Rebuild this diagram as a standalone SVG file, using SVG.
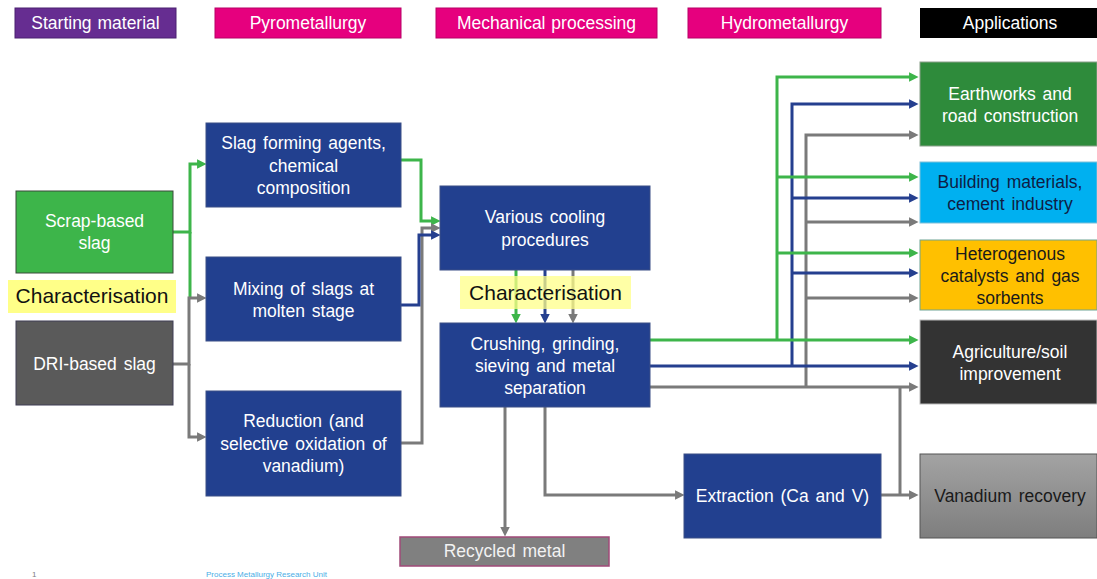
<svg xmlns="http://www.w3.org/2000/svg" width="1097" height="579" viewBox="0 0 1097 579">
  <style>
    text { font-family: "Liberation Sans", Arial, sans-serif; text-anchor: middle; }
    .hdr { font-size: 17.5px; fill: #ffffff; word-spacing: 1px; }
    .nt { font-size: 17.5px; fill: #ffffff; word-spacing: 2px; }
    .dk { fill: #1a1a1a; }
    .navy { fill: #0f1d45; }
    .char { font-size: 21px; fill: #111111; }
    .blue { fill: #22408f; stroke: #3b4f86; stroke-width: 1; }
    .ln { fill: none; stroke-width: 3; stroke-linejoin: miter; }
    .g { stroke: #3db54a; }
    .b { stroke: #253f8f; }
    .k { stroke: #7a7a7a; }
    .foot { font-size: 8px; text-anchor: start; }
  </style>
  <defs>
    <marker id="ah-g" viewBox="0 0 10 10" refX="1" refY="5" markerWidth="9.5" markerHeight="9.5" markerUnits="userSpaceOnUse" orient="auto">
      <path d="M0,0 L10,5 L0,10 z" fill="#3db54a"/>
    </marker>
    <marker id="ah-b" viewBox="0 0 10 10" refX="1" refY="5" markerWidth="9.5" markerHeight="9.5" markerUnits="userSpaceOnUse" orient="auto">
      <path d="M0,0 L10,5 L0,10 z" fill="#253f8f"/>
    </marker>
    <marker id="ah-k" viewBox="0 0 10 10" refX="1" refY="5" markerWidth="9.5" markerHeight="9.5" markerUnits="userSpaceOnUse" orient="auto">
      <path d="M0,0 L10,5 L0,10 z" fill="#7a7a7a"/>
    </marker>
    <linearGradient id="vgrad" x1="0" y1="0" x2="0" y2="1">
      <stop offset="0" stop-color="#a3a3a3"/>
      <stop offset="1" stop-color="#7e7e7e"/>
    </linearGradient>
  </defs>

  <rect width="1097" height="579" fill="#ffffff"/>

  <!-- column headers -->
  <g id="hdr-start"><rect x="15" y="8" width="161" height="30" fill="#662d91" stroke="#4b2070"/><text class="hdr" x="95.5" y="29">Starting material</text></g>
  <g id="hdr-pyro"><rect x="215" y="8" width="186" height="30" fill="#e6007e" stroke="#b80066"/><text class="hdr" x="308" y="29">Pyrometallurgy</text></g>
  <g id="hdr-mech"><rect x="436" y="8" width="221" height="30" fill="#e6007e" stroke="#b80066"/><text class="hdr" x="546.5" y="29">Mechanical processing</text></g>
  <g id="hdr-hydro"><rect x="688" y="8" width="193" height="30" fill="#e6007e" stroke="#b80066"/><text class="hdr" x="784.5" y="29">Hydrometallurgy</text></g>
  <g id="hdr-app"><rect x="920" y="8" width="177" height="30" fill="#000000"/><text class="hdr" x="1010" y="29">Applications</text></g>

  <!-- connectors -->
  <g id="connectors">
    <!-- starting material to pyrometallurgy -->
    <path class="ln g" d="M173,232 H190 V164 H198" marker-end="url(#ah-g)"/>
    <path class="ln g" d="M190,232 V298"/>
    <path class="ln k" d="M173,364 H189 V298 H198" marker-end="url(#ah-k)"/>
    <path class="ln k" d="M189,364 V437 H198" marker-end="url(#ah-k)"/>
    <!-- pyrometallurgy to cooling -->
    <path class="ln g" d="M401,160 H421 V221 H432" marker-end="url(#ah-g)"/>
    <path class="ln k" d="M401,443 H422 V228 H432" marker-end="url(#ah-k)"/>
    <path class="ln b" d="M401,305 H419 V235 H432" marker-end="url(#ah-b)"/>
    <!-- cooling to crushing -->
    <path class="ln g" d="M516,270 V315" marker-end="url(#ah-g)"/>
    <path class="ln b" d="M545,270 V315" marker-end="url(#ah-b)"/>
    <path class="ln k" d="M573,270 V315" marker-end="url(#ah-k)"/>
    <!-- crushing to applications -->
    <path class="ln k" d="M650,387 H910" marker-end="url(#ah-k)"/>
    <path class="ln k" d="M806,387 V135 H910" marker-end="url(#ah-k)"/>
    <path class="ln k" d="M806,222 H910" marker-end="url(#ah-k)"/>
    <path class="ln k" d="M806,298 H910" marker-end="url(#ah-k)"/>
    <path class="ln b" d="M650,366 H910" marker-end="url(#ah-b)"/>
    <path class="ln b" d="M792,366 V104 H910" marker-end="url(#ah-b)"/>
    <path class="ln b" d="M792,198 H910" marker-end="url(#ah-b)"/>
    <path class="ln b" d="M792,273 H910" marker-end="url(#ah-b)"/>
    <path class="ln g" d="M650,340 H910" marker-end="url(#ah-g)"/>
    <path class="ln g" d="M777,340 V77 H910" marker-end="url(#ah-g)"/>
    <path class="ln g" d="M777,177 H910" marker-end="url(#ah-g)"/>
    <path class="ln g" d="M777,253 H910" marker-end="url(#ah-g)"/>
    <!-- crushing to recycled metal and extraction -->
    <path class="ln k" d="M505,407 V528" marker-end="url(#ah-k)"/>
    <path class="ln k" d="M545,407 V495 H676" marker-end="url(#ah-k)"/>
    <!-- extraction to vanadium recovery and agriculture -->
    <path class="ln k" d="M881,495 H910" marker-end="url(#ah-k)"/>
    <path class="ln k" d="M900,495 V387"/>
  </g>

  <!-- starting materials -->
  <g id="scrap"><rect x="16" y="191" width="157" height="82" fill="#3db54a" stroke="#3a4a3a"/><text class="nt" x="94.5" y="227">Scrap-based</text><text class="nt" x="94.5" y="249">slag</text></g>
  <g id="char-left"><rect x="8" y="280" width="168" height="33" fill="#ffff88"/><text class="char" x="92" y="303">Characterisation</text></g>
  <g id="dri"><rect x="16" y="321" width="157" height="84" fill="#5a5a5a" stroke="#3e3d55"/><text class="nt" x="94.5" y="370">DRI-based slag</text></g>

  <!-- pyrometallurgy -->
  <g id="slag-forming"><rect class="blue" x="206" y="123" width="195" height="84"/><text class="nt" x="303.5" y="149">Slag forming agents,</text><text class="nt" x="303.5" y="172">chemical</text><text class="nt" x="303.5" y="194">composition</text></g>
  <g id="mixing"><rect class="blue" x="206" y="257" width="195" height="84"/><text class="nt" x="303.5" y="295">Mixing of slags at</text><text class="nt" x="303.5" y="317">molten stage</text></g>
  <g id="reduction"><rect class="blue" x="206" y="391" width="195" height="105"/><text class="nt" x="303.5" y="427">Reduction (and</text><text class="nt" x="303.5" y="450">selective oxidation of</text><text class="nt" x="303.5" y="472">vanadium)</text></g>

  <!-- mechanical processing -->
  <g id="cooling"><rect class="blue" x="440" y="186" width="210" height="84"/><text class="nt" x="545" y="223">Various cooling</text><text class="nt" x="545" y="246">procedures</text></g>
  <g id="char-mid"><rect x="460" y="276" width="171" height="33" fill="#ffff88" fill-opacity="0.75"/><text class="char" x="545.5" y="300">Characterisation</text></g>
  <g id="crushing"><rect class="blue" x="440" y="323" width="210" height="84"/><text class="nt" x="545" y="350">Crushing, grinding,</text><text class="nt" x="545" y="372">sieving and metal</text><text class="nt" x="545" y="394">separation</text></g>
  <g id="recycled"><rect x="400" y="537" width="209" height="29" fill="#808080" stroke="#a04a78" stroke-width="1.5"/><text class="nt" x="504.5" y="557" style="fill:#f2f2f2">Recycled metal</text></g>

  <!-- hydrometallurgy -->
  <g id="extraction"><rect class="blue" x="684" y="454" width="197" height="84"/><text class="nt" x="782.5" y="502">Extraction (Ca and V)</text></g>

  <!-- applications -->
  <g id="earthworks"><rect x="920" y="62" width="177" height="84" fill="#2e8b3b" stroke="#8aa08a"/><text class="nt" x="1010" y="100">Earthworks and</text><text class="nt" x="1010" y="122">road construction</text></g>
  <g id="building"><rect x="920" y="162" width="177" height="61" fill="#00b0f0" stroke="#7fbfd8"/><text class="nt navy" x="1010" y="188">Building materials,</text><text class="nt navy" x="1010" y="210">cement industry</text></g>
  <g id="catalysts"><rect x="920" y="240" width="177" height="70" fill="#ffc000" stroke="#6fa394"/><text class="nt dk" x="1010" y="260">Heterogenous</text><text class="nt dk" x="1010" y="282">catalysts and gas</text><text class="nt dk" x="1010" y="304">sorbents</text></g>
  <g id="agriculture"><rect x="920" y="320" width="177" height="84" fill="#333333" stroke="#bbbbbb"/><text class="nt" x="1010" y="358">Agriculture/soil</text><text class="nt" x="1010" y="380">improvement</text></g>
  <g id="vanadium"><rect x="920" y="454" width="177" height="84" fill="url(#vgrad)" stroke="#555555"/><text class="nt dk" x="1010" y="502">Vanadium recovery</text></g>

  <!-- footer -->
  <text class="foot" x="32" y="577" fill="#808080">1</text>
  <text class="foot" x="206" y="577" fill="#4aaee6">Process Metallurgy Research Unit</text>
</svg>
